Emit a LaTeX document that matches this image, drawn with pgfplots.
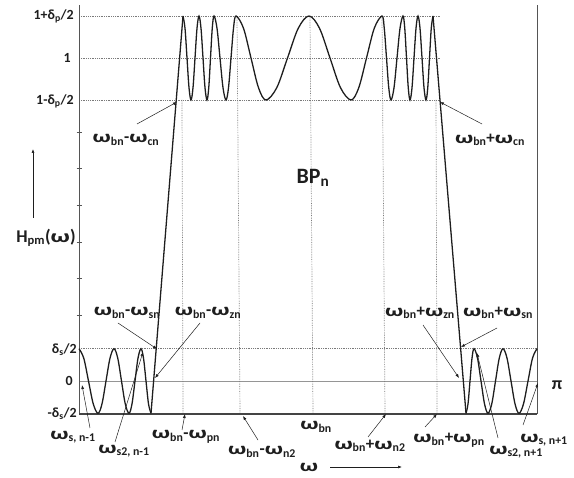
\documentclass[border=0pt]{standalone}
\usepackage{pgfplots}
\pgfplotsset{compat=1.18}
\usepackage{fontspec}
\setmainfont{Carlito}
\usepackage{graphicx}
\usetikzlibrary{arrows.meta}

\newcommand\w{\scalebox{1.5}[1]{ω}}
\newcommand\s[1]{\textsubscript{#1}}

\definecolor{ink}{HTML}{1E1E1E}
\definecolor{axisgray}{HTML}{555555}
\definecolor{dotgray}{HTML}{7A7A7A}

\begin{document}
\begin{tikzpicture}[
    font=\fontsize{14}{16}\selectfont\bfseries,
    lab/.style={text=ink, inner sep=0pt},
    wl/.style={text=ink, inner sep=0pt, font=\fontsize{17}{19}\selectfont\bfseries},
    arr/.style={-{Latex[length=4pt,width=3pt]}, line width=0.5pt, ink}
  ]
\begin{axis}[
    scale only axis, width=458bp, height=409bp,
    at={(0,0)}, anchor=south west,
    xmin=79, xmax=537, ymin=-0.10217, ymax=1.16409,
    hide axis, clip=false,
  ]
  % reference levels
  \draw[dotgray, densely dotted, line width=0.8pt] (axis cs:79,1.13) -- (axis cs:440,1.13);
  \draw[dotgray, densely dotted, line width=0.8pt] (axis cs:79,1.00) -- (axis cs:440,1.00);
  \draw[dotgray, densely dotted, line width=0.8pt] (axis cs:79,0.87) -- (axis cs:440,0.87);
  \draw[dotgray, densely dotted, line width=0.8pt] (axis cs:79,0.10) -- (axis cs:537,0.10);
  \draw[dotgray!80, line width=1pt] (axis cs:79,0) -- (axis cs:537,0);
  \draw[dotgray, densely dotted, line width=0.7pt] (axis cs:183,-0.102) -- (axis cs:182,0.87);
  \draw[dotgray, densely dotted, line width=0.7pt] (axis cs:240,-0.102) -- (axis cs:237,1.13);
  \draw[dotgray, densely dotted, line width=0.7pt] (axis cs:313,-0.102) -- (axis cs:310,1.13);
  \draw[dotgray, densely dotted, line width=0.7pt] (axis cs:385,-0.102) -- (axis cs:382,1.13);
  \draw[dotgray, densely dotted, line width=0.7pt] (axis cs:437,-0.102) -- (axis cs:436,0.87);
  % frame
  \draw[axisgray, line width=1pt] (axis cs:79,-0.10217) -- (axis cs:79,1.16409);
  \draw[axisgray, line width=1pt] (axis cs:537,-0.10217) -- (axis cs:537,1.16409);
  \draw[axisgray!80!black, line width=1.5pt] (axis cs:79,-0.10217) -- (axis cs:537,-0.10217);

  % left stopband
  \addplot[ink, line width=1.3pt, smooth, tension=0.55] coordinates {
    (79,0.1) (83.75,0.0707) (88.5,0) (93.25,-0.0707) (98,-0.1)
    (102,-0.0707) (106,0) (110,0.0707) (114,0.1)
    (117.75,0.0707) (121.5,0) (125.25,-0.0707) (129,-0.1)
    (132,-0.0707) (135,0) (138,0.0707) (141,0.1)
    (143.5,0.0707) (146,0) (148.5,-0.0707) (151,-0.1)
  };
  % left transition
  \addplot[ink, line width=1.3pt] coordinates {(151,-0.1) (183,1.13)};
  % passband
  \addplot[ink, line width=1.3pt, smooth, tension=0.55] coordinates {
    (183,1.13) (185,1.092) (187,1.0) (189,0.908) (191,0.87)
    (193,0.908) (195,1.0) (197,1.092) (199,1.13)
    (201,1.092) (203,1.0) (205,0.908) (207,0.87)
    (208.75,0.908) (210.5,1.0) (212.25,1.092) (214,1.13)
    (217,1.092) (220,1.0) (223,0.908) (226,0.87)
    (228.5,0.908) (231,1.0) (233.5,1.092) (236,1.13)
    (243.5,1.092) (251,1.0) (258.5,0.908) (266,0.87)
    (276.75,0.908) (287.5,1.0) (298.25,1.092) (309,1.13)
    (319.5,1.092) (330,1.0) (340.5,0.908) (351,0.87)
    (358.75,0.908) (366.5,1.0) (374.25,1.092) (382,1.13)
    (384.25,1.092) (386.5,1.0) (388.75,0.908) (391,0.87)
    (394,0.908) (397,1.0) (400,1.092) (403,1.13)
    (404.75,1.092) (406.5,1.0) (408.25,0.908) (410,0.87)
    (412,0.908) (414,1.0) (416,1.092) (418,1.13)
    (420,1.092) (422,1.0) (424,0.908) (426,0.87)
    (427.75,0.908) (429.5,1.0) (431.25,1.092) (433,1.13)
  };
  % right transition
  \addplot[ink, line width=1.3pt] coordinates {(433,1.13) (466,-0.1)};
  % right stopband
  \addplot[ink, line width=1.3pt, smooth, tension=0.55] coordinates {
    (466,-0.1) (468,-0.0707) (470,0) (472,0.0707) (474,0.1)
    (477.5,0.0707) (481,0) (484.5,-0.0707) (488,-0.1)
    (491.75,-0.0707) (495.5,0) (499.25,0.0707) (503,0.1)
    (507,0.0707) (511,0) (515,-0.0707) (519,-0.1)
    (523.5,-0.0707) (528,0) (532.5,0.0707) (537,0.1)
  };
  \coordinate (ll) at (axis cs:79,-0.10217);
\end{axis}

% annotations in picture pixels (x right, y down)
\begin{scope}[shift={(ll)}, shift={(-79bp,414bp)}, x=1bp, y=-1bp]
  \path (0,0) rectangle (574,478);
  % left axis minor ticks
  \foreach \t in {132,168,205,242,278,315}
    \draw[axisgray, line width=0.6pt] (76.5,\t) -- (81.5,\t);

  % level labels
  \node[lab, anchor=east] at (74,16) {1+δ\s{p}/2};
  \node[lab, anchor=east] at (71,58) {1};
  \node[lab, anchor=east] at (74,101) {1-δ\s{p}/2};
  \node[lab, anchor=east] at (77,350) {δ\s{s}/2};
  \node[lab, anchor=east] at (73,381) {0};
  \node[lab, anchor=east] at (77,414) {-δ\s{s}/2};

  % y label
  \draw[-{Latex[length=4pt,width=3pt]}, line width=0.6pt, ink] (33,218) -- (33,149);
  \node[lab, font=\fontsize{18}{20}\selectfont\bfseries] at (46,238) {H\s{pm}(\w)};
  % x label
  \node[wl] at (309,467) {\w};
  \draw[-{Latex[length=4pt,width=3pt]}, line width=0.6pt, ink] (330,467) -- (402,467);
  % band name
  \node[lab, font=\fontsize{22}{24}\selectfont\bfseries] at (313,178) {BP\s{n}};

  % edge annotations
  \node[wl] at (126,140) {\w\s{bn}-\w\s{cn}};
  \draw[arr] (137,124) -- (177,102);
  \node[wl] at (490,140) {\w\s{bn}+\w\s{cn}};
  \draw[arr] (482,124) -- (440,102);
  \node[wl] at (127,313) {\w\s{bn}-\w\s{sn}};
  \draw[arr] (118,323) -- (157,349);
  \node[wl] at (208,313) {\w\s{bn}-\w\s{zn}};
  \draw[arr] (200,323) -- (155,378);
  \node[wl] at (420,313) {\w\s{bn}+\w\s{zn}};
  \draw[arr] (423,325) -- (459,378);
  \node[wl] at (498,313) {\w\s{bn}+\w\s{sn}};
  \draw[arr] (497,328) -- (461,347);

  % bottom annotations
  \node[wl] at (73,437) {\w\s{s, n-1}};
  \draw[arr] (90,428) -- (82,385);
  \node[wl] at (124,451) {\w\s{s2, n-1}};
  \draw[arr] (115,442) -- (143,352);
  \node[wl] at (186,437) {\w\s{bn}-\w\s{pn}};
  \draw[arr] (182,430) -- (185,414);
  \node[wl] at (262,452) {\w\s{bn}-\w\s{n2}};
  \draw[arr] (258,440) -- (243,416);
  \node[wl] at (316,427) {\w\s{bn}};
  \node[wl] at (370,446) {\w\s{bn}+\w\s{n2}};
  \draw[arr] (368,437) -- (386,414);
  \node[wl] at (449,440) {\w\s{bn}+\w\s{pn}};
  \draw[arr] (425,427) -- (437,414);
  \node[wl] at (516,452) {\w\s{s2, n+1}};
  \draw[arr] (498,438) -- (477,353);
  \node[wl] at (544,440) {\w\s{s, n+1}};
  \draw[arr] (523,425) -- (538,383);
  \node[lab, font=\fontsize{18}{20}\selectfont\bfseries] at (557,385) {π};
\end{scope}
\end{tikzpicture}
\end{document}
